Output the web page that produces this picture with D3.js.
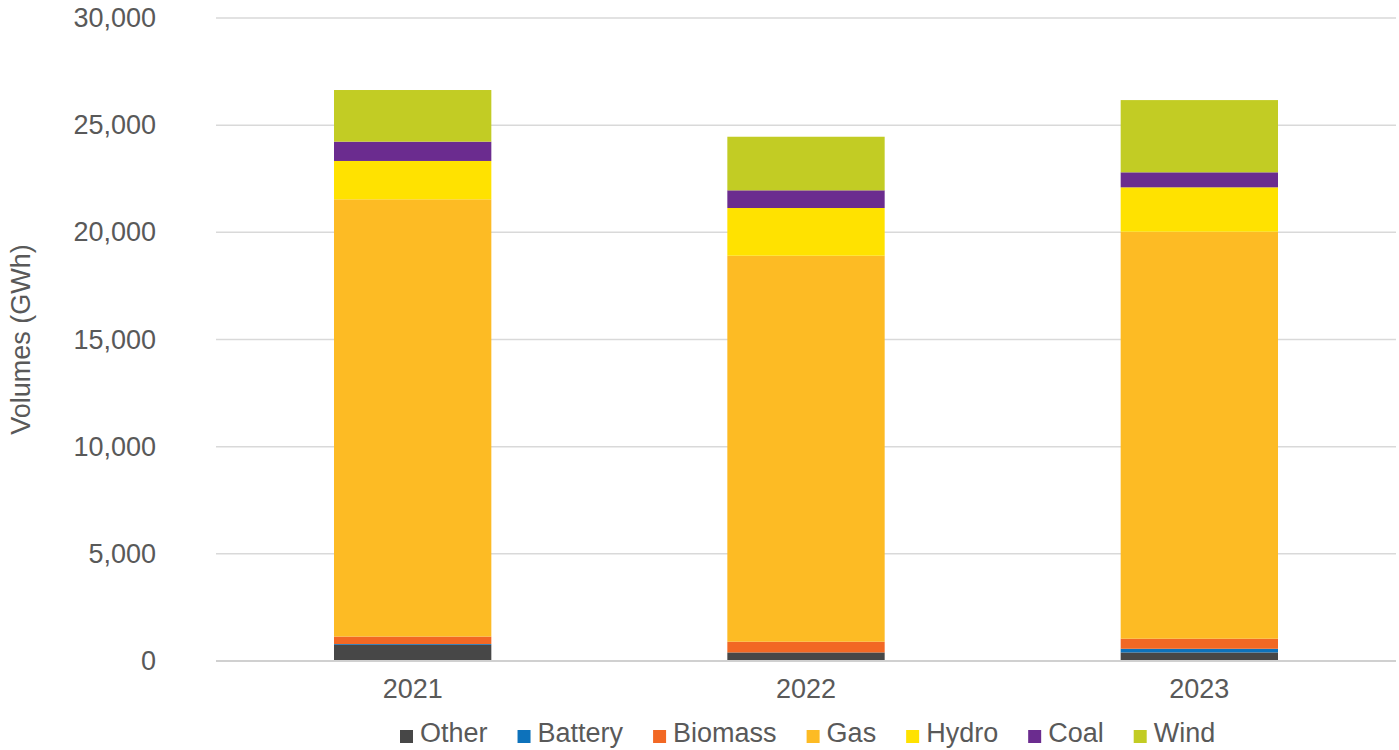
<!DOCTYPE html>
<html>
<head>
<meta charset="utf-8">
<script src="https://cdn.jsdelivr.net/npm/d3@7"></script>
<style>
  html, body { margin: 0; padding: 0; background: #fff; }
  svg { display: block; font-family: "Liberation Sans", Arial, Helvetica, sans-serif; }
</style>
</head>
<body>
<svg id="chart" width="1399" height="750"></svg>
<script>
const years = ["2021", "2022", "2023"];
const seriesNames = ["Other", "Battery", "Biomass", "Gas", "Hydro", "Coal", "Wind"];
const seriesColors = ["#474747", "#0d72bb", "#f26824", "#fdbb24", "#ffe200", "#6b2c8f", "#c2cc24"];
const otherVals   = [750, 400, 400];
const batteryVals = [40, 0, 170];
const biomassVals = [350, 500, 470];
const gasVals     = [20400, 18010, 18990];
const hydroVals   = [1790, 2225, 2070];
const coalVals    = [900, 825, 700];
const windVals    = [2410, 2500, 3370];
const yTicks = [0, 5000, 10000, 15000, 20000, 25000, 30000];
const yTitle = "Volumes (GWh)";

(function () {
const seriesValues = [otherVals, batteryVals, biomassVals, gasVals, hydroVals, coalVals, windVals];
const table = years.map((yr, i) => {
  const row = { year: yr };
  seriesNames.forEach((s, j) => row[s] = seriesValues[j][i]);
  return row;
});

const svg = d3.select("#chart");
const plotLeft = 216, plotRight = 1396, plotTop = 18, plotBottom = 661;
const textColor = "#595959";

const x = d3.scaleBand().domain(years).range([plotLeft, plotRight]).paddingInner(0.6).paddingOuter(0.3);
const y = d3.scaleLinear().domain([0, 30000]).range([plotBottom, plotTop]);

// gridlines
svg.append("g").selectAll("line").data(yTicks.filter(d => d > 0)).join("line")
  .attr("x1", plotLeft).attr("x2", plotRight)
  .attr("y1", d => y(d)).attr("y2", d => y(d))
  .attr("stroke", "#d9d9d9").attr("stroke-width", 1.5);

// y axis labels
const yAxis = d3.axisLeft(y).tickValues(yTicks).tickSize(0).tickPadding(0)
  .tickFormat(d3.format(","));
const yg = svg.append("g").attr("transform", "translate(156,0)").call(yAxis);
yg.select(".domain").remove();
yg.selectAll("text").attr("fill", textColor).style("font-size", "27px")
  .style("font-family", "'Liberation Sans', Arial, sans-serif");

// stacked bars
const stacked = d3.stack().keys(seriesNames)(table);
svg.append("g").selectAll("g").data(stacked).join("g")
  .attr("fill", (d, i) => seriesColors[i])
  .selectAll("rect").data(d => d).join("rect")
  .attr("x", d => x(d.data.year))
  .attr("width", x.bandwidth())
  .attr("y", d => y(d[1]))
  .attr("height", d => Math.max(0, y(d[0]) - y(d[1])));

// x axis
const xAxis = d3.axisBottom(x).tickSize(0).tickPadding(0);
const xg = svg.append("g").attr("transform", `translate(0,${plotBottom})`).call(xAxis);
xg.select(".domain").remove();
xg.selectAll("text").attr("fill", textColor).attr("dy", null).attr("y", 37)
  .style("font-size", "27px").style("font-family", "'Liberation Sans', Arial, sans-serif");
svg.append("line").attr("x1", plotLeft).attr("x2", plotRight).attr("y1", plotBottom).attr("y2", plotBottom)
  .attr("stroke", "#d0d0d0").attr("stroke-width", 2);

// y title
svg.append("text")
  .attr("transform", `translate(30,${(plotTop + plotBottom) / 2}) rotate(-90)`)
  .attr("text-anchor", "middle")
  .attr("fill", textColor).style("font-size", "27px")
  .text(yTitle);

// legend
const legend = svg.append("g");
const items = legend.selectAll("g").data(seriesNames).join("g");
items.append("rect").attr("width", 13).attr("height", 13).attr("y", 730)
  .attr("fill", (d, i) => seriesColors[i]);
items.append("text").attr("x", 20).attr("y", 742)
  .attr("fill", textColor).style("font-size", "27px").text(d => d);
const widths = [];
items.each(function () { widths.push(20 + this.querySelector("text").getComputedTextLength()); });
const gap = 30;
const total = d3.sum(widths) + gap * (widths.length - 1);
let cx = 400;
items.attr("transform", (d, i) => {
  const t = `translate(${cx},0)`;
  cx += widths[i] + gap;
  return t;
});
})();
</script>
</body>
</html>
